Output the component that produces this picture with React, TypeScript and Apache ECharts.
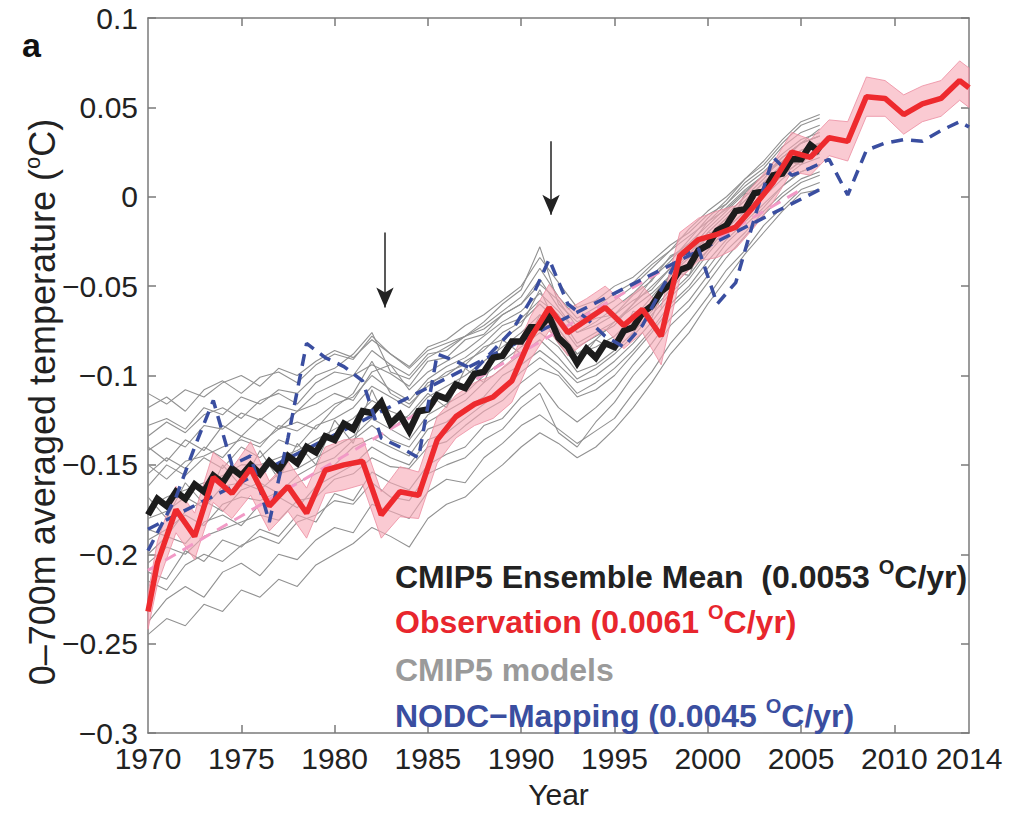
import React, { useEffect, useRef } from "react";
import * as echarts from "echarts";

const FONT = "'Liberation Sans', Arial, Helvetica, sans-serif";

// Observation (annual means, red) with uncertainty half-width
const obsYears = [1970, 1970.5, 1971.5, 1972.5, 1973.5, 1974.5, 1975.5, 1976.5, 1977.5, 1978.5, 1979.5, 1980.5, 1981.5, 1982.5, 1983.5, 1984.5, 1985.5, 1986.5, 1987.5, 1988.5, 1989.5, 1990.5, 1991.5, 1992.5, 1993.5, 1994.5, 1995.5, 1996.5, 1997.5, 1998.5, 1999.5, 2000.5, 2001.5, 2002.5, 2003.5, 2004.5, 2005.5, 2006.5, 2007.5, 2008.5, 2009.5, 2010.5, 2011.5, 2012.5, 2013.5, 2014];
const obsValues = [-0.232, -0.205, -0.175, -0.190, -0.157, -0.166, -0.152, -0.173, -0.162, -0.177, -0.153, -0.150, -0.148, -0.178, -0.165, -0.167, -0.136, -0.123, -0.116, -0.112, -0.103, -0.079, -0.062, -0.076, -0.069, -0.062, -0.072, -0.063, -0.078, -0.033, -0.024, -0.021, -0.017, -0.005, 0.008, 0.025, 0.022, 0.033, 0.031, 0.056, 0.055, 0.046, 0.052, 0.055, 0.065, 0.061];
const obsUncertainty = [0.010, 0.012, 0.013, 0.013, 0.014, 0.014, 0.015, 0.014, 0.014, 0.014, 0.013, 0.014, 0.013, 0.013, 0.014, 0.013, 0.013, 0.012, 0.012, 0.012, 0.012, 0.012, 0.013, 0.013, 0.012, 0.012, 0.013, 0.013, 0.016, 0.013, 0.012, 0.013, 0.012, 0.012, 0.011, 0.011, 0.010, 0.010, 0.011, 0.011, 0.010, 0.011, 0.010, 0.010, 0.011, 0.011];

// CMIP5 ensemble mean (half-year resolution, black)
const ensYears = [1970, 1970.5, 1971, 1971.5, 1972, 1972.5, 1973, 1973.5, 1974, 1974.5, 1975, 1975.5, 1976, 1976.5, 1977, 1977.5, 1978, 1978.5, 1979, 1979.5, 1980, 1980.5, 1981, 1981.5, 1982, 1982.5, 1983, 1983.5, 1984, 1984.5, 1985, 1985.5, 1986, 1986.5, 1987, 1987.5, 1988, 1988.5, 1989, 1989.5, 1990, 1990.5, 1991, 1991.5, 1992, 1992.5, 1993, 1993.5, 1994, 1994.5, 1995, 1995.5, 1996, 1996.5, 1997, 1997.5, 1998, 1998.5, 1999, 1999.5, 2000, 2000.5, 2001, 2001.5, 2002, 2002.5, 2003, 2003.5, 2004, 2004.5, 2005, 2005.5, 2006];
const ensValues = [-0.178, -0.169, -0.173, -0.165, -0.169, -0.161, -0.165, -0.156, -0.160, -0.152, -0.156, -0.150, -0.155, -0.148, -0.153, -0.145, -0.149, -0.140, -0.143, -0.134, -0.136, -0.127, -0.130, -0.120, -0.121, -0.115, -0.127, -0.122, -0.131, -0.120, -0.119, -0.111, -0.113, -0.105, -0.107, -0.099, -0.098, -0.090, -0.089, -0.081, -0.081, -0.073, -0.073, -0.067, -0.079, -0.084, -0.093, -0.085, -0.090, -0.082, -0.084, -0.075, -0.073, -0.065, -0.061, -0.053, -0.049, -0.041, -0.039, -0.030, -0.027, -0.019, -0.016, -0.008, -0.007, 0.002, 0.003, 0.012, 0.013, 0.021, 0.021, 0.029, 0.025];

// NODC mapping (blue dashed)
const nodcYears = [1970, 1971.5, 1972.5, 1973.5, 1974.5, 1975.5, 1976.5, 1977.5, 1978.5, 1979.5, 1980.5, 1981.5, 1982.5, 1983.5, 1984.5, 1985.5, 1986.5, 1987.5, 1988.5, 1989.5, 1990.5, 1991.5, 1992.5, 1993.5, 1994.5, 1995.5, 1996.5, 1997.5, 1998.5, 1999.5, 2000.5, 2001.5, 2002.5, 2003.5, 2004.5, 2005.5, 2006.5, 2007.5, 2008.5, 2009.5, 2010.5, 2011.5, 2012.5, 2013.5, 2014];
const nodcValues = [-0.198, -0.168, -0.140, -0.114, -0.150, -0.145, -0.182, -0.135, -0.082, -0.090, -0.095, -0.103, -0.135, -0.140, -0.146, -0.088, -0.092, -0.097, -0.086, -0.075, -0.058, -0.035, -0.060, -0.068, -0.078, -0.084, -0.072, -0.052, -0.033, -0.029, -0.060, -0.048, -0.012, 0.022, 0.012, 0.016, 0.021, 0.001, 0.026, 0.030, 0.032, 0.031, 0.037, 0.042, 0.039];

// Linear trend lines (end points)
const obsTrendYears = [1970, 2005];
const obsTrendValues = [-0.209, 0.004];
const nodcTrendYears = [1970, 2006];
const nodcTrendValues = [-0.186, 0.004];

// Individual CMIP5 models (annual, grey)
const modelYears = [1970, 1971, 1972, 1973, 1974, 1975, 1976, 1977, 1978, 1979, 1980, 1981, 1982, 1983, 1984, 1985, 1986, 1987, 1988, 1989, 1990, 1991, 1992, 1993, 1994, 1995, 1996, 1997, 1998, 1999, 2000, 2001, 2002, 2003, 2004, 2005, 2006];
const modelA = [-0.118, -0.112, -0.120, -0.108, -0.103, -0.110, -0.101, -0.098, -0.104, -0.094, -0.088, -0.091, -0.078, -0.088, -0.095, -0.084, -0.080, -0.072, -0.066, -0.058, -0.050, -0.034, -0.048, -0.062, -0.058, -0.050, -0.045, -0.036, -0.027, -0.020, -0.010, -0.004, 0.008, 0.016, 0.028, 0.036, 0.040];
const modelB = [-0.142, -0.135, -0.140, -0.128, -0.130, -0.121, -0.125, -0.117, -0.120, -0.110, -0.105, -0.100, -0.094, -0.099, -0.106, -0.092, -0.090, -0.080, -0.077, -0.066, -0.060, -0.049, -0.058, -0.073, -0.068, -0.066, -0.055, -0.047, -0.033, -0.028, -0.014, -0.007, 0.003, 0.012, 0.022, 0.030, 0.034];
const modelC = [-0.238, -0.225, -0.218, -0.224, -0.210, -0.205, -0.212, -0.200, -0.203, -0.192, -0.185, -0.188, -0.172, -0.176, -0.180, -0.165, -0.158, -0.160, -0.146, -0.138, -0.128, -0.122, -0.130, -0.138, -0.131, -0.124, -0.110, -0.098, -0.082, -0.070, -0.056, -0.041, -0.030, -0.016, -0.006, 0.004, 0.008];
const modelD = [-0.205, -0.196, -0.200, -0.190, -0.186, -0.182, -0.178, -0.181, -0.170, -0.168, -0.158, -0.155, -0.146, -0.151, -0.152, -0.140, -0.137, -0.128, -0.120, -0.114, -0.104, -0.096, -0.100, -0.112, -0.108, -0.100, -0.088, -0.076, -0.062, -0.052, -0.040, -0.026, -0.016, -0.006, 0.006, 0.014, 0.018];
const modelE = [-0.168, -0.180, -0.160, -0.172, -0.150, -0.162, -0.142, -0.158, -0.138, -0.150, -0.125, -0.138, -0.108, -0.130, -0.122, -0.110, -0.118, -0.096, -0.104, -0.080, -0.088, -0.066, -0.082, -0.094, -0.080, -0.086, -0.064, -0.068, -0.042, -0.044, -0.020, -0.020, 0.002, 0.000, 0.020, 0.018, 0.030];
const modelF = [-0.150, -0.158, -0.148, -0.145, -0.140, -0.136, -0.140, -0.128, -0.131, -0.124, -0.116, -0.112, -0.100, -0.108, -0.114, -0.102, -0.095, -0.090, -0.082, -0.072, -0.068, -0.058, -0.066, -0.082, -0.076, -0.070, -0.060, -0.046, -0.036, -0.024, -0.012, -0.002, 0.010, 0.020, 0.032, 0.042, 0.046];
const modelG = [-0.192, -0.186, -0.178, -0.184, -0.172, -0.168, -0.170, -0.165, -0.160, -0.155, -0.150, -0.140, -0.135, -0.140, -0.145, -0.130, -0.126, -0.118, -0.112, -0.100, -0.094, -0.086, -0.094, -0.104, -0.100, -0.092, -0.082, -0.070, -0.056, -0.046, -0.032, -0.020, -0.010, 0.000, 0.010, 0.018, 0.022];
const modelH = [-0.128, -0.124, -0.130, -0.118, -0.122, -0.112, -0.116, -0.108, -0.110, -0.100, -0.096, -0.088, -0.076, -0.098, -0.102, -0.090, -0.084, -0.078, -0.070, -0.060, -0.052, -0.028, -0.060, -0.070, -0.064, -0.058, -0.050, -0.040, -0.030, -0.022, -0.014, -0.004, 0.006, 0.014, 0.024, 0.032, 0.036];
const modelI = [-0.215, -0.220, -0.206, -0.200, -0.204, -0.195, -0.190, -0.194, -0.182, -0.178, -0.170, -0.172, -0.160, -0.168, -0.170, -0.155, -0.150, -0.146, -0.136, -0.130, -0.118, -0.110, -0.132, -0.140, -0.126, -0.115, -0.100, -0.088, -0.072, -0.062, -0.048, -0.034, -0.022, -0.010, 0.000, 0.008, 0.012];
const modelJ = [-0.162, -0.150, -0.156, -0.146, -0.152, -0.140, -0.146, -0.136, -0.140, -0.128, -0.124, -0.118, -0.106, -0.112, -0.118, -0.104, -0.100, -0.092, -0.086, -0.076, -0.070, -0.060, -0.070, -0.084, -0.078, -0.072, -0.060, -0.050, -0.040, -0.030, -0.018, -0.008, 0.002, 0.012, 0.020, 0.030, 0.034];
const modelK = [-0.180, -0.176, -0.168, -0.174, -0.162, -0.160, -0.164, -0.155, -0.152, -0.146, -0.140, -0.134, -0.124, -0.130, -0.136, -0.122, -0.116, -0.110, -0.100, -0.092, -0.084, -0.076, -0.084, -0.098, -0.094, -0.086, -0.076, -0.064, -0.052, -0.040, -0.030, -0.018, -0.008, 0.002, 0.012, 0.020, 0.024];
const modelL = [-0.110, -0.116, -0.108, -0.112, -0.104, -0.100, -0.106, -0.096, -0.100, -0.092, -0.086, -0.090, -0.080, -0.088, -0.096, -0.086, -0.082, -0.078, -0.074, -0.066, -0.060, -0.046, -0.062, -0.076, -0.070, -0.062, -0.054, -0.044, -0.034, -0.026, -0.016, -0.006, 0.004, 0.012, 0.022, 0.030, 0.034];
const modelM = [-0.245, -0.236, -0.240, -0.228, -0.232, -0.220, -0.224, -0.214, -0.218, -0.206, -0.200, -0.194, -0.185, -0.190, -0.196, -0.180, -0.172, -0.168, -0.158, -0.150, -0.140, -0.132, -0.138, -0.146, -0.140, -0.130, -0.118, -0.104, -0.088, -0.076, -0.060, -0.046, -0.032, -0.020, -0.008, 0.002, 0.004];
const modelN = [-0.140, -0.148, -0.136, -0.142, -0.128, -0.134, -0.124, -0.130, -0.120, -0.116, -0.110, -0.114, -0.098, -0.094, -0.108, -0.098, -0.092, -0.086, -0.078, -0.070, -0.064, -0.054, -0.064, -0.076, -0.072, -0.066, -0.058, -0.052, -0.040, -0.032, -0.020, -0.010, 0.000, 0.010, 0.022, 0.030, 0.038];
const modelO = [-0.200, -0.190, -0.194, -0.182, -0.178, -0.184, -0.172, -0.168, -0.174, -0.162, -0.156, -0.150, -0.140, -0.146, -0.150, -0.136, -0.132, -0.124, -0.116, -0.108, -0.098, -0.090, -0.098, -0.110, -0.104, -0.096, -0.086, -0.074, -0.060, -0.050, -0.036, -0.024, -0.014, -0.004, 0.006, 0.014, 0.018];
const modelP = [-0.155, -0.146, -0.152, -0.140, -0.146, -0.134, -0.138, -0.130, -0.126, -0.130, -0.118, -0.110, -0.092, -0.110, -0.116, -0.106, -0.098, -0.094, -0.084, -0.080, -0.072, -0.052, -0.074, -0.088, -0.080, -0.070, -0.062, -0.054, -0.044, -0.032, -0.022, -0.012, -0.002, 0.008, 0.018, 0.026, 0.030];
const modelQ = [-0.210, -0.214, -0.198, -0.204, -0.192, -0.196, -0.186, -0.190, -0.178, -0.182, -0.166, -0.170, -0.154, -0.160, -0.164, -0.150, -0.144, -0.140, -0.128, -0.124, -0.112, -0.104, -0.118, -0.126, -0.118, -0.108, -0.094, -0.082, -0.068, -0.058, -0.044, -0.030, -0.020, -0.008, 0.002, 0.010, 0.014];
const modelR = [-0.134, -0.126, -0.132, -0.122, -0.118, -0.124, -0.114, -0.110, -0.116, -0.104, -0.098, -0.100, -0.086, -0.094, -0.100, -0.088, -0.086, -0.078, -0.072, -0.064, -0.056, -0.040, -0.056, -0.068, -0.062, -0.054, -0.048, -0.038, -0.030, -0.018, -0.008, 0.000, 0.010, 0.018, 0.030, 0.040, 0.044];
const modelS = [-0.186, -0.190, -0.176, -0.170, -0.176, -0.164, -0.160, -0.166, -0.156, -0.150, -0.146, -0.136, -0.128, -0.136, -0.140, -0.126, -0.120, -0.114, -0.104, -0.096, -0.088, -0.080, -0.090, -0.102, -0.096, -0.088, -0.078, -0.066, -0.054, -0.044, -0.030, -0.018, -0.008, 0.002, 0.012, 0.020, 0.024];
const modelT = [-0.174, -0.168, -0.164, -0.160, -0.156, -0.150, -0.150, -0.146, -0.142, -0.136, -0.130, -0.124, -0.114, -0.120, -0.124, -0.112, -0.106, -0.100, -0.092, -0.084, -0.076, -0.066, -0.074, -0.088, -0.084, -0.078, -0.068, -0.056, -0.044, -0.034, -0.022, -0.012, -0.002, 0.008, 0.018, 0.026, 0.030];
const models = [modelA, modelB, modelC, modelD, modelE, modelF, modelG, modelH, modelI, modelJ, modelK, modelL, modelM, modelN, modelO, modelP, modelQ, modelR, modelS, modelT];

// Volcanic eruption arrows (El Chichón, Pinatubo): [year, top value, tip value]
const arrows = [
  [1982.7, -0.020, -0.062],
  [1991.6, 0.031, -0.010],
];

const xTicks = { min: 1970, max: 2014, interval: 5 };
const xLabelValues = [1970, 1975, 1980, 1985, 1990, 1995, 2000, 2005, 2010, 2014];
const xTickValues = [1975, 1980, 1985, 1990, 1995, 2000, 2005, 2010];
const yTicks = { min: -0.3, max: 0.1, interval: 0.05 };

const pair = (xs: number[], ys: number[]) => xs.map((x, i) => [x, ys[i]]);

const fmtY = (v: number) => {
  let s = String(Math.round(v * 100) / 100);
  if (s.startsWith("-")) s = "\u2212" + s.slice(1);
  return s;
};

export default function App() {
  const ref = useRef<HTMLDivElement>(null);
  useEffect(() => {
    if (!ref.current) return;
    const chart = echarts.init(ref.current, undefined, { renderer: "svg" });
    const axisCol = "#7a7a7a";
    const baseX = {
      type: "value",
      min: xTicks.min,
      max: xTicks.max,
      interval: xTicks.interval,
      splitLine: { show: false },
      axisLine: { show: true, onZero: false, lineStyle: { color: axisCol, width: 1.5 } },
      axisTick: { show: true, inside: true, length: 8, customValues: xTickValues, lineStyle: { color: axisCol, width: 1.5 } },
    };
    const baseY = {
      type: "value",
      min: yTicks.min,
      max: yTicks.max,
      interval: yTicks.interval,
      splitLine: { show: false },
      axisLine: { show: true, onZero: false, lineStyle: { color: axisCol, width: 1.5 } },
      axisTick: { show: true, inside: true, length: 8, lineStyle: { color: axisCol, width: 1.5 } },
    };

    const bandData = obsYears.map((x, i) => [x, obsValues[i] - obsUncertainty[i], obsValues[i] + obsUncertainty[i]]);

    const greySeries = models.map((m, k) => ({
      type: "line",
      name: "model" + k,
      data: pair(modelYears, m),
      showSymbol: false,
      symbol: "none",
      silent: true,
      lineStyle: { color: "#919191", width: 1.1 },
      z: 1,
    }));

    const legendRich = (color: string) => ({
      m: { fontSize: 32, fontWeight: "bold", fill: color, fontFamily: FONT, lineHeight: 40 },
      s: { fontSize: 20, fontWeight: "bold", fill: color, fontFamily: FONT, lineHeight: 18, verticalAlign: "top" },
    });

    const legendItems = [
      { pre: "CMIP5 Ensemble Mean  (0.0053 ", post: "C/yr)", color: "#222222", y: 577, sup: true },
      { pre: "Observation (0.0061 ", post: "C/yr)", color: "#e8262d", y: 622, sup: true },
      { pre: "CMIP5 models", post: "", color: "#9a9a9a", y: 670, sup: false },
      { pre: "NODC\u2212Mapping (0.0045 ", post: "C/yr)", color: "#3a4ea0", y: 716, sup: true },
    ];

    const option: any = {
      animation: false,
      backgroundColor: "#ffffff",
      grid: { left: 148, top: 18, width: 821, height: 721 },
      xAxis: [
        {
          ...baseX,
          position: "bottom",
          axisLabel: {
            fontSize: 30,
            color: "#222",
            fontFamily: FONT,
            margin: 10,
            customValues: xLabelValues,
            formatter: (v: number) => String(v),
          },
          name: "Year",
          nameLocation: "middle",
          nameGap: 46,
          nameTextStyle: { fontSize: 30, color: "#222", fontFamily: FONT },
        },
        { ...baseX, position: "top", axisLabel: { show: false } },
      ],
      yAxis: [
        {
          ...baseY,
          position: "left",
          axisLabel: { fontSize: 30, color: "#222", fontFamily: FONT, margin: 10, formatter: fmtY },
        },
        { ...baseY, position: "right", axisLabel: { show: false } },
      ],
      series: [
        ...greySeries,
        {
          type: "custom",
          name: "band",
          silent: true,
          data: bandData,
          z: 2,
          renderItem: (params: any, api: any) => {
            if (params.dataIndex !== 0) return null;
            const upper = bandData.map((d) => api.coord([d[0], d[2]]));
            const lower = bandData.map((d) => api.coord([d[0], d[1]])).reverse();
            return {
              type: "polygon",
              shape: { points: upper.concat(lower) },
              style: { fill: "rgba(247,170,182,0.62)", stroke: "rgba(236,140,160,0.8)", lineWidth: 1 },
            };
          },
        },
        {
          type: "line",
          name: "obsTrend",
          data: pair(obsTrendYears, obsTrendValues),
          symbol: "none",
          silent: true,
          lineStyle: { color: "#f29ac6", width: 3, type: [12, 8] },
          z: 3,
        },
        {
          type: "line",
          name: "nodcTrend",
          data: pair(nodcTrendYears, nodcTrendValues),
          symbol: "none",
          silent: true,
          lineStyle: { color: "#3a4ea0", width: 3.5, type: [12, 8] },
          z: 3,
        },
        {
          type: "line",
          name: "CMIP5 Ensemble Mean",
          data: pair(ensYears, ensValues),
          symbol: "none",
          silent: true,
          lineStyle: { color: "#1c1c1c", width: 6.5, join: "miter" },
          z: 4,
        },
        {
          type: "line",
          name: "NODC-Mapping",
          data: pair(nodcYears, nodcValues),
          symbol: "none",
          silent: true,
          lineStyle: { color: "#3a4ea0", width: 3.5, type: [12, 8] },
          z: 5,
        },
        {
          type: "line",
          name: "Observation",
          data: pair(obsYears, obsValues),
          symbol: "none",
          silent: true,
          lineStyle: { color: "#ee2a2e", width: 5.5 },
          z: 6,
          markLine: {
            silent: true,
            symbol: ["none", "arrow"],
            symbolSize: [13, 20],
            label: { show: false },
            lineStyle: { color: "#222", width: 1.5, type: "solid" },
            itemStyle: { color: "#222" },
            data: arrows.map((a) => [{ coord: [a[0], a[1]] }, { coord: [a[0], a[2]] }]),
          },
        },
      ],
      graphic: [
        {
          type: "text",
          left: 22,
          top: 28,
          style: { text: "a", fontSize: 34, fontWeight: "bold", fill: "#111", fontFamily: FONT },
        },
        {
          type: "text",
          x: 42,
          y: 402,
          rotation: Math.PI / 2,
          style: {
            text: "{t|0\u2013700m averaged temperature (}{s|o}{t|C)}",
            align: "center",
            verticalAlign: "middle",
            rich: {
              t: { fontSize: 36, fill: "#222", fontFamily: FONT, lineHeight: 42 },
              s: { fontSize: 22, fill: "#222", fontFamily: FONT, lineHeight: 18, verticalAlign: "top" },
            },
          },
        },
        ...legendItems.map((it) => ({
          type: "text",
          x: 395,
          y: it.y,
          z: 100,
          style: {
            text: it.sup ? `{m|${it.pre}}{s|O}{m|${it.post}}` : `{m|${it.pre}}`,
            align: "left",
            verticalAlign: "middle",
            rich: legendRich(it.color),
          },
        })),
      ],
    };
    chart.setOption(option);
    return () => chart.dispose();
  }, []);
  return <div ref={ref} style={{ position: "absolute", left: 0, top: 0, width: 1010, height: 814 }} />;
}
